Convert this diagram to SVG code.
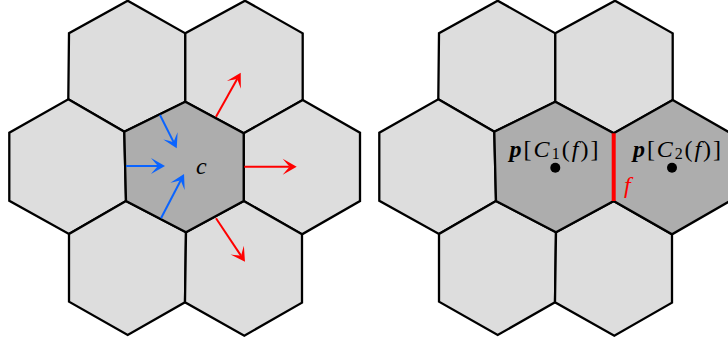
<svg xmlns="http://www.w3.org/2000/svg" width="728" height="346" viewBox="0 0 728 346">
<style>
.hex{fill:#dddddd;stroke:#000;stroke-width:2.3;stroke-linejoin:miter}
.dark{fill:#adadad}
.lbl{font-family:"Liberation Serif","DejaVu Serif",serif;font-size:24px;fill:#000}
.it{font-style:italic}
.ab{stroke:#0a64ff;stroke-width:2;fill:none}
.ar{stroke:#ff0000;stroke-width:2;fill:none}
</style>
<defs>
<marker id="hb" markerUnits="userSpaceOnUse" viewBox="-8 -9 16 18" markerWidth="16" markerHeight="18" refX="0" refY="0" orient="auto" overflow="visible">
<path d="M7,0 L-7,-8 Q-2,-2 0,0 Q-2,2 -7,8 Z" fill="#0a64ff"/>
</marker>
<marker id="hr" markerUnits="userSpaceOnUse" viewBox="-8 -9 16 18" markerWidth="16" markerHeight="18" refX="0" refY="0" orient="auto" overflow="visible">
<path d="M7,0 L-7,-8 Q-2,-2 0,0 Q-2,2 -7,8 Z" fill="#ff0000"/>
</marker>
</defs>

<g id="panel-left">
<g id="L-tl"><polygon class="hex" points="127.7,0.7 185.3,33.3 185.3,101.7 124.3,131.7 68.3,99.3 69,33.3"/></g>
<g id="L-tr"><polygon class="hex" points="245,0.7 302.7,33.3 302.7,100 243.7,133.3 185.3,101.7 185.3,33.3"/></g>
<g id="L-l"><polygon class="hex" points="68.3,99.3 124.3,131.7 126,201 69,234 9.3,200.7 9.3,132.7"/></g>
<g id="L-r"><polygon class="hex" points="302.7,100 360,132.7 360,201 302,234.3 243.7,201 243.7,133.3"/></g>
<g id="L-bl"><polygon class="hex" points="126,201 186,232.3 185,302.3 127.7,335 69,301.7 69,234"/></g>
<g id="L-br"><polygon class="hex" points="243.7,201 302,234.3 302,302.7 244.3,335.7 185,302.3 186,232.3"/></g>
<g id="L-c"><polygon class="hex dark" points="185.3,101.7 243.7,133.3 243.7,201 186,232.3 126,201 124.3,131.7"/>
<text class="lbl it" x="196" y="174">c</text></g>
<g id="connectors">
<line class="ab" x1="160" y1="115" x2="173.6" y2="142.1" marker-end="url(#hb)"/>
<line class="ab" x1="126" y1="166" x2="158" y2="166" marker-end="url(#hb)"/>
<line class="ab" x1="161" y1="218.3" x2="180.8" y2="180.2" marker-end="url(#hb)"/>
<line class="ar" x1="216" y1="116.7" x2="237.3" y2="78.8" marker-end="url(#hr)"/>
<line class="ar" x1="244.3" y1="166.7" x2="289.7" y2="166.7" marker-end="url(#hr)"/>
<line class="ar" x1="216" y1="218.3" x2="241.1" y2="255.9" marker-end="url(#hr)"/>
</g>
</g>

<g id="panel-right" transform="translate(370,0)">
<g id="R-tl"><polygon class="hex" points="127.7,0.7 185.3,33.3 185.3,101.7 124.3,131.7 68.3,99.3 69,33.3"/></g>
<g id="R-tr"><polygon class="hex" points="245,0.7 302.7,33.3 302.7,100 243.7,133.3 185.3,101.7 185.3,33.3"/></g>
<g id="R-l"><polygon class="hex" points="68.3,99.3 124.3,131.7 126,201 69,234 9.3,200.7 9.3,132.7"/></g>
<g id="R-bl"><polygon class="hex" points="126,201 186,232.3 185,302.3 127.7,335 69,301.7 69,234"/></g>
<g id="R-br"><polygon class="hex" points="243.7,201 302,234.3 302,302.7 244.3,335.7 185,302.3 186,232.3"/></g>
<g id="R-c1"><polygon class="hex dark" points="185.3,101.7 243.7,133.3 243.7,201 186,232.3 126,201 124.3,131.7"/>
<circle cx="185.3" cy="167.7" r="5" fill="#000"/></g>
<g id="R-c2"><polygon class="hex dark" points="302.7,100 360,132.7 360,201 302,234.3 243.7,201 243.7,133.3"/>
<circle cx="302" cy="167.7" r="5" fill="#000"/></g>
<g id="face-f"><line x1="243.7" y1="133.3" x2="243.7" y2="201" stroke="#ff0000" stroke-width="4"/>
<text class="lbl it" x="254" y="193" style="fill:#ff0000">f</text></g>
</g>

<g id="labels">
<text class="lbl" x="509.5" y="157" textLength="89" lengthAdjust="spacing"><tspan font-weight="bold" font-style="italic">p</tspan><tspan>[</tspan><tspan font-style="italic">C</tspan><tspan font-size="16" dy="2">1</tspan><tspan dy="-2">(</tspan><tspan font-style="italic">f</tspan><tspan>)]</tspan></text>
<text class="lbl" x="633" y="157" textLength="88" lengthAdjust="spacing"><tspan font-weight="bold" font-style="italic">p</tspan><tspan>[</tspan><tspan font-style="italic">C</tspan><tspan font-size="16" dy="2">2</tspan><tspan dy="-2">(</tspan><tspan font-style="italic">f</tspan><tspan>)]</tspan></text>
</g>
</svg>
